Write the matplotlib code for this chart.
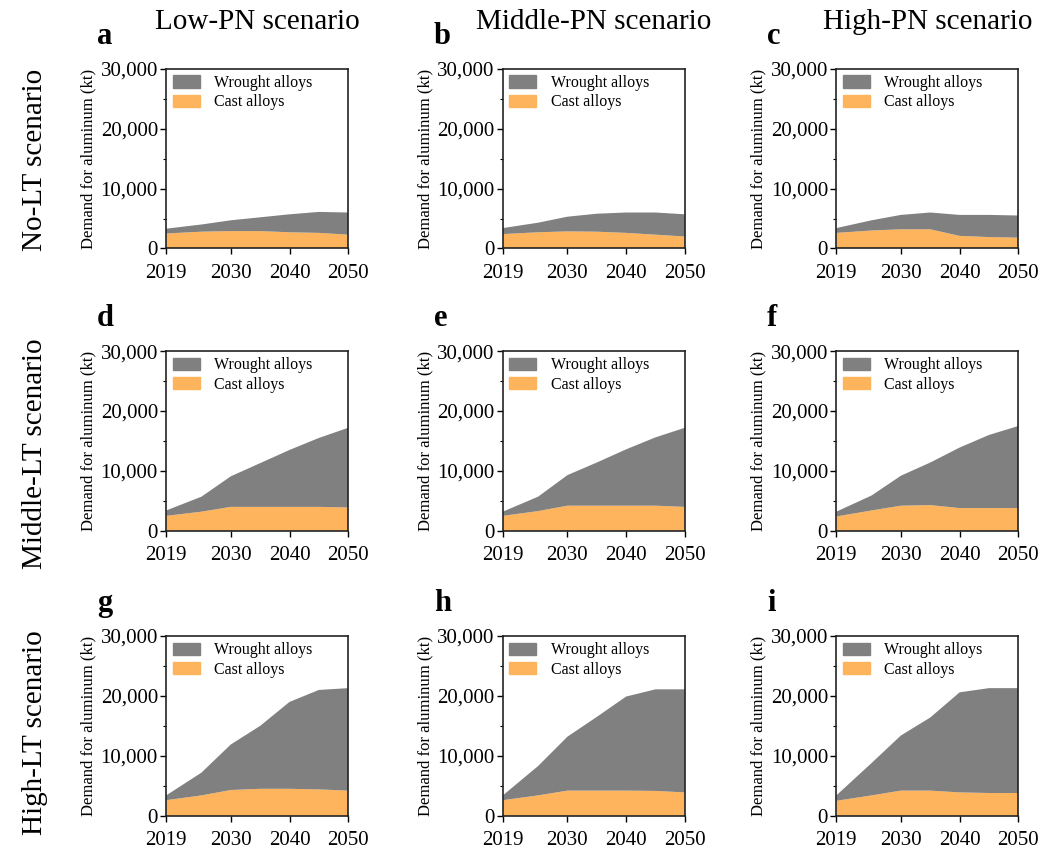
import numpy as np
import matplotlib.pyplot as plt
from matplotlib.ticker import FuncFormatter, MultipleLocator
from matplotlib.patches import Patch

plt.rcParams['font.family'] = ['Liberation Serif', 'DejaVu Serif']

years = [2019, 2025, 2030, 2035, 2040, 2045, 2050]

# cast alloys (bottom layer), kt
cast_a = [2500, 2800, 2900, 2900, 2700, 2600, 2300]
cast_b = [2400, 2700, 2850, 2800, 2600, 2300, 2000]
cast_c = [2600, 3000, 3200, 3200, 2100, 1900, 1800]
cast_d = [2500, 3200, 4000, 4000, 4000, 4000, 3900]
cast_e = [2500, 3300, 4200, 4200, 4200, 4200, 4000]
cast_f = [2400, 3400, 4200, 4300, 3800, 3800, 3800]
cast_g = [2600, 3400, 4300, 4500, 4500, 4400, 4200]
cast_h = [2600, 3400, 4200, 4200, 4200, 4150, 3900]
cast_i = [2500, 3400, 4200, 4200, 3900, 3800, 3800]

# total demand (top of wrought layer), kt
total_a = [3300, 4000, 4700, 5200, 5700, 6100, 6000]
total_b = [3400, 4300, 5300, 5800, 6000, 6000, 5700]
total_c = [3400, 4700, 5600, 6000, 5600, 5600, 5500]
total_d = [3400, 5700, 9100, 11300, 13500, 15500, 17200]
total_e = [3200, 5700, 9300, 11400, 13600, 15600, 17200]
total_f = [3200, 5900, 9200, 11400, 13900, 16000, 17500]
total_g = [3400, 7200, 11900, 15000, 19000, 21000, 21300]
total_h = [3400, 8300, 13200, 16500, 19900, 21100, 21100]
total_i = [3400, 8800, 13400, 16400, 20600, 21300, 21300]

casts = [cast_a, cast_b, cast_c, cast_d, cast_e, cast_f, cast_g, cast_h, cast_i]
totals = [total_a, total_b, total_c, total_d, total_e, total_f, total_g, total_h, total_i]
letters = ['a', 'b', 'c', 'd', 'e', 'f', 'g', 'h', 'i']
col_titles = ['Low-PN scenario', 'Middle-PN scenario', 'High-PN scenario']
row_titles = ['No-LT scenario', 'Middle-LT scenario', 'High-LT scenario']

gray = '#808080'
orange = '#fdb45c'

fig = plt.figure(figsize=(10.52, 8.48), dpi=100)

lefts = [0.158, 0.478, 0.795]
bottoms = [0.707, 0.374, 0.038]
w, h = 0.173, 0.212
row_label_y = [0.49, 0.43, 0.46]

for k in range(9):
    r, c = k // 3, k % 3
    ax = fig.add_axes([lefts[c], bottoms[r], w, h])
    cast = np.array(casts[k])
    wrought = np.array(totals[k]) - cast
    ax.stackplot(years, cast, wrought, colors=[orange, gray], linewidth=0)
    ax.set_xlim(2019, 2050)
    ax.set_ylim(0, 30000)
    ax.set_xticks([2019, 2030, 2040, 2050])
    ax.set_yticks([0, 10000, 20000, 30000])
    ax.yaxis.set_minor_locator(MultipleLocator(5000))
    ax.yaxis.set_major_formatter(FuncFormatter(lambda v, p: f'{int(v):,}'))
    ax.tick_params(axis='both', labelsize=15, direction='out', length=4, width=1)
    ax.tick_params(axis='x', pad=7)
    ax.tick_params(axis='y', pad=2)
    ax.tick_params(axis='y', which='minor', length=2, width=0.8)
    for s in ax.spines.values():
        s.set_linewidth(1.2)
        s.set_color('#222222')
    ax.set_ylabel('Demand for aluminum (kt)', fontsize=12, labelpad=3)
    handles = [Patch(color=gray, label='Wrought alloys'), Patch(color=orange, label='Cast alloys')]
    ax.legend(handles=handles, loc='upper left', frameon=False, fontsize=11.5,
              handlelength=1.7, handleheight=0.8, labelspacing=0.2, handletextpad=0.9,
              borderaxespad=0.2, borderpad=0.2)
    ax.text(-0.38, 1.1, letters[k], transform=ax.transAxes, fontsize=22,
            fontweight='bold', ha='left', va='bottom')
    if r == 0:
        ax.text(0.5, 1.19, col_titles[c], transform=ax.transAxes, fontsize=21,
                ha='center', va='bottom')
    if c == 0:
        ax.text(-0.72, row_label_y[r], row_titles[r], transform=ax.transAxes, fontsize=21,
                ha='center', va='center', rotation=90)

fig.savefig('out.png', dpi=100)
